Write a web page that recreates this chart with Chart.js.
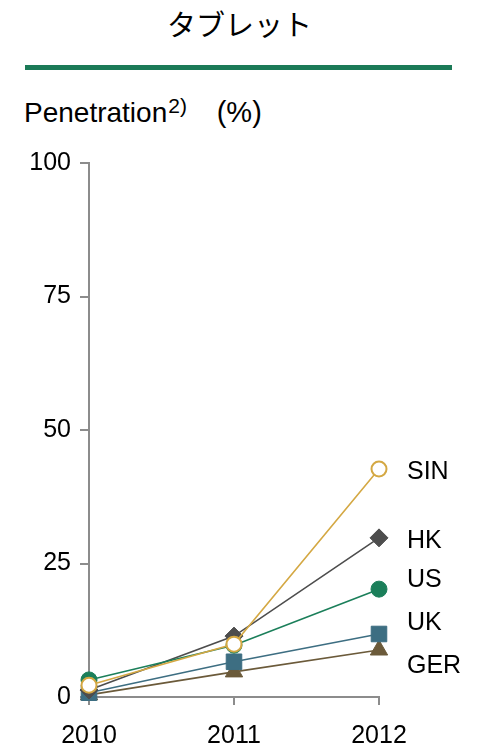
<!DOCTYPE html>
<html>
<head>
<meta charset="utf-8">
<script src="https://cdn.jsdelivr.net/npm/chart.js@4/dist/chart.umd.min.js"></script>
<style>
  html, body { margin: 0; padding: 0; background: #fff; }
  body { width: 479px; height: 749px; position: relative; overflow: hidden;
         font-family: "Liberation Sans", Arial, sans-serif; color: #000; }
  #title { position: absolute; left: 0; width: 479px; top: 3px; text-align: center;
           font-family: "Noto Sans CJK JP", sans-serif; font-size: 29px; line-height: 40px; }
  #rule { position: absolute; left: 25px; top: 65px; width: 427px; height: 5px; background: #1b7a57; }
  #unit { position: absolute; left: 24px; top: 95px; font-size: 28px; line-height: 34px; white-space: nowrap; }
  #unit .sup { font-size: 21px; position: relative; top: -9px; margin-left: 1px; }
  #unit .pct { margin-left: 22px; font-size: 29px; }
  #wrap { position: absolute; left: 0; top: 0; width: 479px; height: 749px; }
</style>
</head>
<body>
<div id="title">タブレット</div>
<div id="rule"></div>
<div id="unit">Penetration<span class="sup">2)</span> <span class="pct">(%)</span></div>
<div id="wrap"><canvas id="c"></canvas></div>
<script>
// Tablet penetration by market, 2010-2012
const years = ['2010', '2011', '2012'];
const yTicks = [0, 25, 50, 75, 100];

const sin = [2.2, 9.9, 42.7];
const hk  = [1.3, 11.4, 29.8];
const us  = [3.2, 9.7, 20.2];
const uk  = [0.8, 6.6, 11.8];
const ger = [0.4, 4.7, 8.8];

const seriesNames = ['SIN', 'HK', 'US', 'UK', 'GER'];

const GOLD = '#d4a843', DARK = '#4d4d4d', GREEN = '#1b7f5a', TEAL = '#3d6e82', BROWN = '#6b5a3a';
const AXIS = '#8c8c8c';
const FONT = '"Liberation Sans", Arial, sans-serif';

const markerRadius = { circle: 8, rectRot: 9, rect: 11, triangle: 10 };

function ds(label, data, color, style, order, hollow) {
  return {
    label, data, order,
    borderColor: color,
    backgroundColor: hollow ? '#ffffff' : color,
    pointBackgroundColor: hollow ? '#ffffff' : color,
    pointBorderColor: color,
    pointBorderWidth: hollow ? 2 : 1,
    pointStyle: style,
    pointRadius: hollow ? 7.5 : markerRadius[style],
    borderWidth: 1.6,
    tension: 0,
    clip: false
  };
}

// Series names placed at the right of each line's last point, pushed apart where they would collide
const endLabels = {
  id: 'endLabels',
  afterDatasetsDraw(chart) {
    const ctx = chart.ctx;
    const items = chart.data.datasets.map((d, i) => {
      const meta = chart.getDatasetMeta(i);
      const p = meta.data[meta.data.length - 1];
      return { text: d.label, x: p.x, y: p.y };
    }).sort((a, b) => a.y - b.y);
    const gap = 43;
    // overlapping groups are spread evenly around their mean position
    let groups = items.map(it => ({ members: [it], center: it.y }));
    let changed = true;
    while (changed) {
      changed = false;
      for (let i = 0; i < groups.length - 1; i++) {
        const a = groups[i], b = groups[i + 1];
        const aBottom = a.center + (a.members.length - 1) * gap / 2;
        const bTop = b.center - (b.members.length - 1) * gap / 2;
        if (bTop - aBottom < gap) {
          const members = a.members.concat(b.members);
          const center = members.reduce((s, m) => s + m.y, 0) / members.length;
          groups.splice(i, 2, { members, center });
          changed = true;
          break;
        }
      }
    }
    ctx.save();
    ctx.font = '25px ' + FONT;
    ctx.fillStyle = '#000';
    ctx.textAlign = 'left';
    ctx.textBaseline = 'middle';
    groups.forEach(g => {
      const n = g.members.length;
      g.members.forEach((m, k) => {
        const y = g.center + (k - (n - 1) / 2) * gap;
        ctx.fillText(m.text, m.x + 28, y + (n === 1 ? 3 : -1));
      });
    });
    ctx.restore();
  }
};

new Chart(document.getElementById('c'), {
  type: 'line',
  data: {
    labels: years,
    datasets: [
      ds(seriesNames[0], sin, GOLD, 'circle', 0, true),
      ds(seriesNames[1], hk, DARK, 'rectRot', 2, false),
      ds(seriesNames[2], us, GREEN, 'circle', 1, false),
      ds(seriesNames[3], uk, TEAL, 'rect', 3, false),
      ds(seriesNames[4], ger, BROWN, 'triangle', 4, false)
    ]
  },
  options: {
    responsive: true,
    maintainAspectRatio: false,
    animation: false,
    events: [],
    layout: { padding: { left: 27, right: 100, top: 163, bottom: 0 } },
    plugins: { legend: { display: false }, tooltip: { enabled: false }, title: { display: false } },
    scales: {
      x: {
        type: 'category',
        offset: false,
        afterFit: s => { s.height = 52; },
        grid: { display: true, drawOnChartArea: false, drawTicks: true, tickLength: 8, color: AXIS, lineWidth: 2 },
        border: { display: true, color: AXIS, width: 2 },
        ticks: { color: '#000', font: { family: FONT, size: 25 }, padding: 16, maxRotation: 0 }
      },
      y: {
        min: 0, max: 100,
        afterFit: s => { s.width = 62; },
        afterBuildTicks: s => { s.ticks = yTicks.map(v => ({ value: v })); },
        grid: { display: true, drawOnChartArea: false, drawTicks: true, tickLength: 9, color: AXIS, lineWidth: 2 },
        border: { display: true, color: AXIS, width: 2 },
        ticks: { color: '#000', font: { family: FONT, size: 25 }, padding: 9 }
      }
    }
  },
  plugins: [endLabels]
});
</script>
</body>
</html>
